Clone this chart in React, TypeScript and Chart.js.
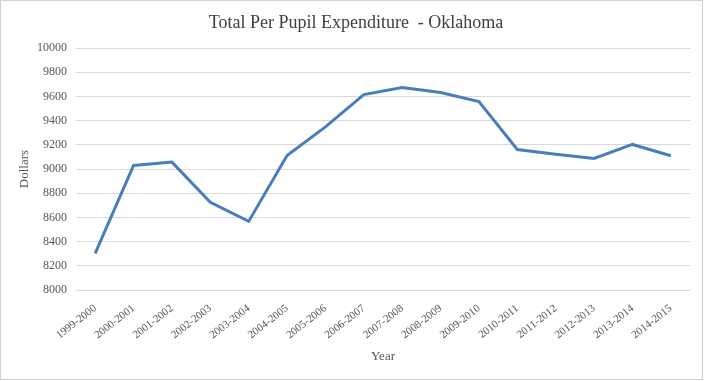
import React, { useEffect, useRef } from "react";
import { Chart, registerables } from "chart.js";

Chart.register(...registerables);

const categories = [
  "1999-2000", "2000-2001", "2001-2002", "2002-2003", "2003-2004", "2004-2005",
  "2005-2006", "2006-2007", "2007-2008", "2008-2009", "2009-2010", "2010-2011",
  "2011-2012", "2012-2013", "2013-2014", "2014-2015",
];
const expenditure = [
  8303, 9029, 9057, 8724, 8567, 9112, 9348, 9615, 9673, 9632, 9557, 9161,
  9122, 9087, 9203, 9109,
];
const yMin = 8000;
const yMax = 10000;
const yStep = 200;
const chartTitle = "Total Per Pupil Expenditure  - Oklahoma";
const yTitle = "Dollars";
const xTitle = "Year";

const FONT = "'Liberation Serif', 'Times New Roman', serif";

const framePlugin = {
  id: "frame",
  afterDraw(chart: any) {
    const { ctx } = chart;
    ctx.save();
    ctx.strokeStyle = "#d0d0d0";
    ctx.lineWidth = 1;
    ctx.strokeRect(0.5, 0.5, 702, 379);
    ctx.fillStyle = "#404040";
    ctx.font = `18px ${FONT}`;
    ctx.textAlign = "center";
    ctx.textBaseline = "alphabetic";
    ctx.fillText(chartTitle, 356, 28);
    ctx.restore();
  },
};

export default function App() {
  const ref = useRef<HTMLCanvasElement | null>(null);
  useEffect(() => {
    document.body.style.margin = "0";
    let chart: any = null;
    let cancelled = false;
    const make = () => {
      if (cancelled || !ref.current) return;
      chart = new Chart(ref.current, {
        type: "line",
        data: {
          labels: categories,
          datasets: [
            {
              data: expenditure,
              borderColor: "#4a7ebb",
              borderWidth: 3,
              pointRadius: 0,
              tension: 0,
              fill: false,
            },
          ],
        },
        options: {
          responsive: false,
          animation: false,
          layout: { padding: { top: 48, right: 15, left: 0, bottom: 0 } },
          plugins: { legend: { display: false }, tooltip: { enabled: false }, title: { display: false } },
          scales: {
            x: {
              offset: true,
              grid: { display: false },
              border: { display: false },
              ticks: {
                autoSkip: false,
                maxRotation: 38,
                minRotation: 38,
                padding: 4,
                color: "#595959",
                font: { family: FONT, size: 11 },
              },
              title: {
                display: true,
                text: xTitle,
                color: "#595959",
                font: { family: FONT, size: 13 },
                padding: 17,
              },
              afterFit(scale: any) {
                scale.height = 91;
                scale.paddingLeft = 0;
                scale.paddingRight = 0;
              },
            },
            y: {
              min: yMin,
              max: yMax,
              grid: { color: "#d9d9d9", lineWidth: 1, drawTicks: false },
              border: { display: false },
              ticks: {
                stepSize: yStep,
                padding: 9,
                color: "#595959",
                font: { family: FONT, size: 12 },
                callback: (v: any) => String(v),
              },
              title: {
                display: true,
                text: yTitle,
                color: "#595959",
                font: { family: FONT, size: 13 },
                padding: 17,
              },
              afterFit(scale: any) {
                scale.width = 76;
                scale.paddingTop = 0;
                scale.paddingBottom = 0;
              },
            },
          },
        },
        plugins: [framePlugin],
      });
    };
    const fonts: any = (document as any).fonts;
    if (fonts && fonts.load) {
      Promise.all([
        fonts.load(`11px 'Liberation Serif'`),
        fonts.load(`12px 'Liberation Serif'`),
        fonts.load(`18px 'Liberation Serif'`),
      ]).then(make, make);
    } else {
      make();
    }
    return () => {
      cancelled = true;
      if (chart) chart.destroy();
    };
  }, []);
  return <canvas ref={ref} width={705} height={381} style={{ display: "block" }} />;
}
